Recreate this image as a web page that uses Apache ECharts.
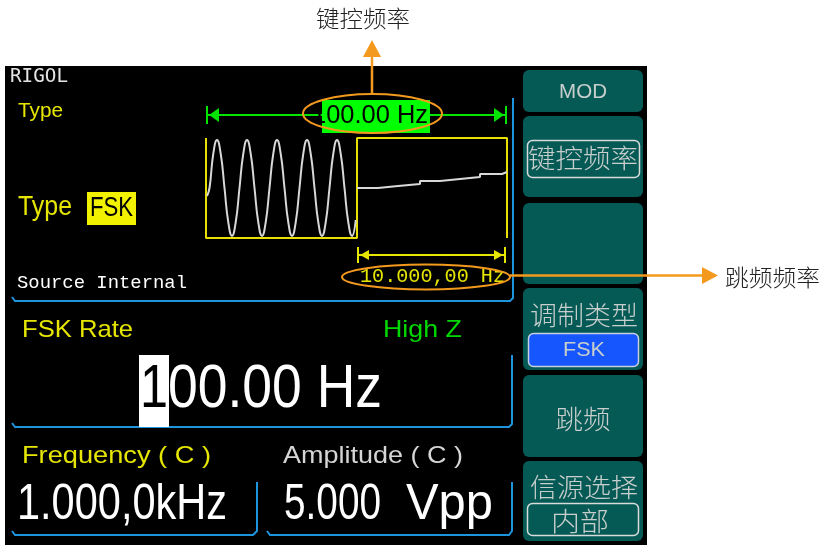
<!DOCTYPE html>
<html><head><meta charset="utf-8">
<script src="https://cdn.jsdelivr.net/npm/echarts/dist/echarts.min.js"></script>
<style>html,body{margin:0;padding:0;background:#fff}#c{width:823px;height:545px}</style>
</head><body><div id="c"></div>
<script>
// ---- data ----
// carrier (sine) segment, x in time units, y in % of screen height
const sineX = [1, 3.5, 7.25, 11, 14.75, 18.5, 22.25, 26, 29.75, 33.5, 37.25, 41, 44.75, 48.5, 52.25, 56, 59.75, 63.5, 67.25, 71, 74.75, 78.5, 82.25, 86, 89.75, 93.5, 97.25, 101, 104.75, 108.5, 112.25, 116, 119.75, 123.5, 127.25, 131, 134.75, 138.5, 142.25, 146, 149.75];
const sineY = [42, 50, 84, 98, 84, 50, 16, 2, 16, 50, 84, 98, 84, 50, 16, 2, 16, 50, 84, 98, 84, 50, 16, 2, 16, 50, 84, 98, 84, 50, 16, 2, 16, 50, 84, 98, 84, 50, 16, 2, 18];
// hop segment (aliased, drawn as slowly rising steps)
const stepX = [151, 172, 192, 214, 234, 254, 274, 296, 301];
const stepY = [50, 52, 54, 57, 59, 61, 64, 66, 66];
// FSK gate (square wave)
const gateX = [0, 0, 151, 151, 301, 301];
const gateY = [100, 0, 0, 100, 100, 0];
// texts
const menuLabels = ['MOD', '键控频率', '', '调制类型', '跳频', '信源选择'];
const menuSub = ['', '', '', 'FSK', '', '内部'];
const rateText = '100.00 Hz';
const hopText = '10.000,00 Hz';
const freqText = '1.000,0kHz';
const ampValue = '5.000';
const ampUnit = 'Vpp';

const SANS = "'Liberation Sans', Arial, sans-serif";
const MONO = "'Liberation Mono', monospace";
const DMONO = "'DejaVu Sans Mono', monospace";
const CJK = "'Noto Sans CJK SC', sans-serif";
const YEL = '#e6e600', GRN = '#00e600', BLUE = '#1e94dc', ORG = '#f39a1e', TEAL = '#055a56', MENU = '#c8cecc';

const mctx = document.createElement('canvas').getContext('2d');
function txt(str, x, y, size, family, color, w, align, weight) {
  const font = (weight || 'normal') + ' ' + size + 'px ' + family;
  mctx.font = font;
  const mw = mctx.measureText(str).width;
  const sx = w ? w / mw : 1;
  return { type: 'text', x: x, y: y, scaleX: sx, silent: true,
    style: { text: str, x: 0, y: 0, fill: color, font: font, align: align || 'left', verticalAlign: 'middle' } };
}
function poly(points, color, w) {
  return { type: 'polyline', silent: true, shape: { points: points }, style: { stroke: color, lineWidth: w || 2, fill: null } };
}
function tri(points, color) {
  return { type: 'polygon', silent: true, shape: { points: points }, style: { fill: color } };
}
function rect(x, y, w, h, fill, r, stroke, lw) {
  return { type: 'rect', silent: true, shape: { x: x, y: y, width: w, height: h, r: r || 0 },
    style: { fill: fill || null, stroke: stroke || null, lineWidth: lw || 1 } };
}

const g = [];
// screen
g.push(rect(5, 66, 642, 479, '#000'));
// menu panels
const panels = [[70, 42], [116, 81], [203, 81], [288, 82], [375, 82], [461, 80]];
panels.forEach(function (p) { g.push(rect(523, p[0], 120, p[1], TEAL, 6)); });
g.push(txt(menuLabels[0], 583, 92, 21, SANS, MENU, 48, 'center'));
g.push(rect(527.5, 140.5, 112, 37, null, 5, '#d8dcda', 1.5));
g.push(txt(menuLabels[1], 583, 158, 26, CJK, MENU, 110, 'center', 300));
g.push(txt(menuLabels[3], 584, 315, 26, CJK, MENU, 108, 'center', 300));
g.push(rect(528.5, 333.5, 110, 33, '#1556ff', 5, '#c8d0e0', 1.5));
g.push(txt(menuSub[3], 584, 350, 20, SANS, MENU, 42, 'center'));
g.push(txt(menuLabels[4], 583, 419, 26, CJK, MENU, 55, 'center', 300));
g.push(txt(menuLabels[5], 584, 487, 26, CJK, MENU, 108, 'center', 300));
g.push(rect(527.5, 503.5, 111, 32, null, 5, '#d8dcda', 1.5));
g.push(txt(menuSub[5], 580, 521, 26, CJK, MENU, 58, 'center', 300));

// blue frames
g.push(poly([[12, 297], [15, 301], [510, 301], [513, 298], [513, 98]], BLUE, 2));
g.push(poly([[12, 423], [15, 427], [509, 427], [512, 424], [512, 355]], BLUE, 2));
g.push(poly([[12, 531], [15, 535], [253, 535], [257, 531], [257, 482]], BLUE, 2));
g.push(poly([[267, 531], [270, 535], [509, 535], [512, 531], [512, 482]], BLUE, 2));

// top-left texts
g.push(txt('RIGOL', 10, 77, 19, DMONO, '#e4e4e4', 58));
g.push(txt('Type', 18, 111, 20, SANS, YEL, 45));
g.push(txt('Type', 18, 207, 28, SANS, YEL, 54));
g.push(rect(87, 192, 49, 33, '#f2f200'));
g.push(txt('FSK', 90, 208, 28, SANS, '#000', 43));
g.push(txt('Source Internal', 17, 283, 19, MONO, '#ffffff', 170));

// green rate marker
g.push(poly([[207, 115], [506, 115]], GRN, 2));
g.push(poly([[207, 106], [207, 124]], GRN, 2));
g.push(poly([[506, 106], [506, 124]], GRN, 2));
g.push(tri([[209, 115], [219, 108], [219, 122]], GRN));
g.push(tri([[504, 115], [494, 108], [494, 122]], GRN));
g.push(rect(322, 100, 108, 33, '#00ff00'));
g.push(txt(rateText, 312, 116, 26, SANS, '#000', 116));

// yellow hop marker
g.push(poly([[358, 255], [505, 255]], YEL, 2));
g.push(poly([[358, 247], [358, 263]], YEL, 2));
g.push(poly([[505, 247], [505, 263]], YEL, 2));
g.push(tri([[360, 255], [369, 250], [369, 260]], YEL));
g.push(tri([[503, 255], [494, 250], [494, 260]], YEL));
g.push(txt(hopText, 360, 277, 20, MONO, YEL, 145));

// middle area
g.push(txt('FSK Rate', 22, 330, 24, SANS, YEL, 111));
g.push(txt('High Z', 383, 330, 24, SANS, '#00d800', 79));
g.push(rect(139, 355, 30, 72, '#ffffff'));
g.push(txt(rateText.charAt(0), 140, 390, 62, SANS, '#000', 28));
g.push(txt(rateText.slice(1), 168, 390, 62, SANS, '#ffffff', 214));

// bottom area
g.push(txt('Frequency ( C )', 22, 456, 24, SANS, YEL, 189));
g.push(txt('Amplitude ( C )', 283, 456, 24, SANS, '#d6d6d6', 180));
g.push(txt(freqText, 17, 505, 50, SANS, '#ffffff', 210));
g.push(txt(ampValue, 284, 505, 50, SANS, '#ffffff', 97));
g.push(txt(ampUnit, 406, 505, 50, SANS, '#ffffff', 87));

// annotations
g.push({ type: 'ellipse', silent: true, shape: { cx: 372.5, cy: 113.5, rx: 69.5, ry: 19.5 }, style: { fill: null, stroke: ORG, lineWidth: 2 } });
g.push(poly([[372, 94], [372, 55]], ORG, 2.5));
g.push(tri([[363, 57], [381, 57], [372, 40]], ORG));
g.push(txt('键控频率', 363, 18, 23, CJK, '#222', 94, 'center', 300));
g.push({ type: 'ellipse', silent: true, shape: { cx: 426, cy: 277, rx: 84, ry: 12.5 }, style: { fill: null, stroke: ORG, lineWidth: 2 } });
g.push(poly([[510, 275.5], [704, 275.5]], ORG, 2.5));
g.push(tri([[702, 267], [702, 284], [718, 275.5]], ORG));
g.push(txt('跳频频率', 725, 277, 23, CJK, '#222', 95, 'left', 300));

function zip(a, b) { return a.map(function (v, i) { return [v, b[i]]; }); }

const chart = echarts.init(document.getElementById('c'), null, { renderer: 'canvas' });
chart.setOption({
  animation: false,
  backgroundColor: '#ffffff',
  grid: { left: 206, top: 138, width: 301, height: 100 },
  xAxis: { type: 'value', min: 0, max: 301, show: false },
  yAxis: { type: 'value', min: 0, max: 100, show: false },
  graphic: g,
  series: [
    { type: 'line', data: zip(gateX, gateY), symbol: 'none', clip: false, lineStyle: { color: '#e8e000', width: 2 }, z: 3 },
    { type: 'line', data: zip(sineX, sineY), symbol: 'none', smooth: true, clip: false, lineStyle: { color: '#d8d8d8', width: 2 }, z: 4 },
    { type: 'line', data: zip(stepX, stepY), symbol: 'none', step: 'end', clip: false, lineStyle: { color: '#d8d8d8', width: 2 }, z: 4 }
  ]
});
</script></body></html>
